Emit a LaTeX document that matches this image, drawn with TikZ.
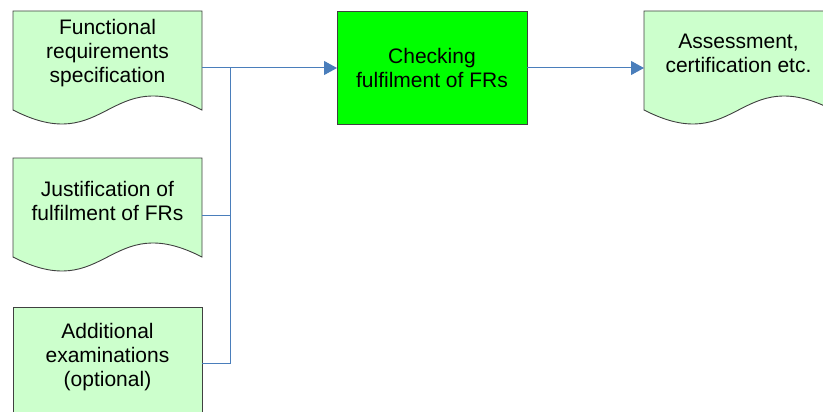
\documentclass[tikz,border=0pt]{standalone}
\usepackage{fontspec}
\setmainfont{Liberation Sans}
\usetikzlibrary{arrows.meta}

\definecolor{docfill}{HTML}{CCFFCC}
\definecolor{procfill}{HTML}{00FF00}
\definecolor{edgeline}{HTML}{404040}
\definecolor{flow}{HTML}{4A7EBB}

\tikzset{
  docshape/.style={draw=edgeline, fill=docfill, line width=0.9pt},
  procshape/.style={draw=edgeline, fill=procfill, line width=0.9pt},
  label/.style={align=center, font=\fontsize{21}{24}\selectfont, inner sep=0pt},
  flowline/.style={draw=flow, line width=1pt},
  flowarrow/.style={flowline, -{Triangle[length=13pt, width=14pt]}},
}

\begin{document}
\begin{tikzpicture}[x=1pt, y=-1pt]
  \useasboundingbox (0,0) rectangle (823,412);

  % document shapes: rectangle with a wavy bottom edge
  \path[docshape] (13,110) -- (13,11) -- (202,11) -- (202,110)
    .. controls (107.5,61.5) and (107.5,158.5) .. (13,110) -- cycle;
  \path[docshape] (13,257) -- (13,158) -- (202,158) -- (202,257)
    .. controls (107.5,208.5) and (107.5,305.5) .. (13,257) -- cycle;
  \path[docshape] (13,420) -- (13,307) -- (202,307) -- (202,420);
  \path[docshape] (644,110) -- (644,11) -- (833,11) -- (833,110)
    .. controls (738.5,61.5) and (738.5,158.5) .. (644,110) -- cycle;

  % process box
  \path[procshape] (337,11) rectangle (527,124);

  % labels
  \node[label] (frs) at (107.5,53) {Functional\\requirements\\specification};
  \node[label] (just) at (107.5,201) {Justification of\\fulfilment of FRs};
  \node[label] (addx) at (107.5,357) {Additional\\examinations\\(optional)};
  \node[label] (check) at (432,68) {Checking\\fulfilment of FRs};
  \node[label] (assess) at (738.5,53) {Assessment,\\certification etc.};

  % anchor points on the shape edges
  \coordinate (frsR) at (202,68);
  \coordinate (justR) at (202,215);
  \coordinate (addxR) at (202,363);
  \coordinate (checkL) at (337,68);
  \coordinate (checkR) at (527,68);
  \coordinate (assessL) at (644,68);
  \coordinate (bus) at (230.5,68);

  % connectors
  \draw[flowline] (justR) -| (bus);
  \draw[flowline] (addxR) -| (bus);
  \draw[flowarrow] (frsR) -- (checkL);
  \draw[flowarrow] (checkR) -- (assessL);
\end{tikzpicture}
\end{document}
